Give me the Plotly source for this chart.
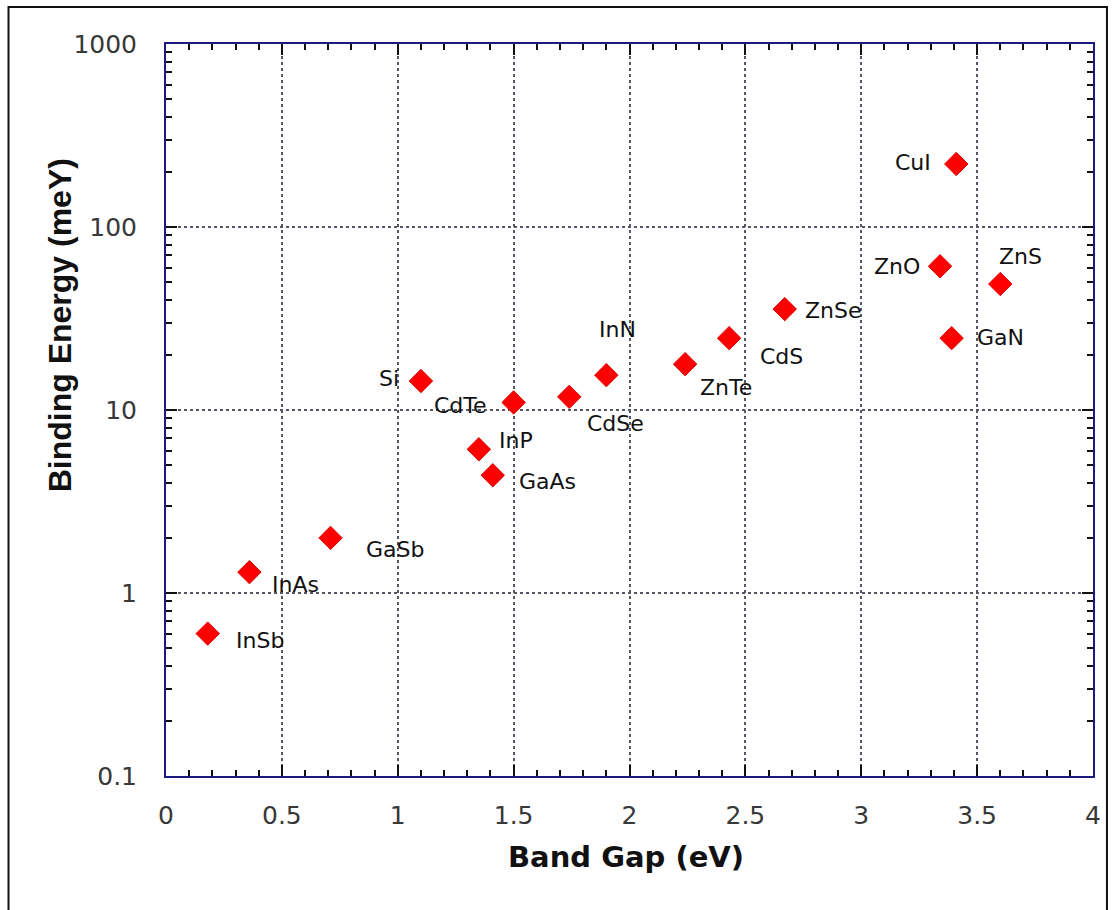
import math
import plotly.graph_objects as go

materials = ["InSb", "InAs", "GaSb", "Si", "CdTe", "InP", "GaAs", "CdSe", "InN",
             "ZnTe", "CdS", "ZnSe", "CuI", "ZnO", "ZnS", "GaN"]
band_gap = [0.18, 0.36, 0.71, 1.10, 1.50, 1.35, 1.41, 1.74, 1.90,
            2.24, 2.43, 2.67, 3.41, 3.34, 3.60, 3.39]
binding_energy = [0.60, 1.30, 2.0, 14.4, 11.0, 6.1, 4.4, 11.8, 15.5,
                  17.8, 24.7, 35.6, 221, 61, 48.8, 24.7]

x_ticks = [0, 0.5, 1, 1.5, 2, 2.5, 3, 3.5, 4]
x_tick_text = ["0", "0.5", "1", "1.5", "2", "2.5", "3", "3.5", "4"]
y_ticks = [0.1, 1, 10, 100, 1000]
y_tick_text = ["0.1", "1", "10", "100", "1000"]

# label placement (anchor side, pixel shift x, pixel shift y)
label_style = {
    "InSb": ("left", 26, -7), "InAs": ("left", 21, -12), "GaSb": ("left", 33, -12),
    "Si": ("right", -20, 3), "CdTe": ("right", -25, -3), "InP": ("left", 18, 9),
    "GaAs": ("left", 24, -6), "CdSe": ("left", 16, -27), "InN": ("left", -9, 46),
    "ZnTe": ("left", 13, -23), "CdS": ("left", 29, -18), "ZnSe": ("left", 18, -1),
    "CuI": ("right", -23, 1), "ZnO": ("right", -18, 0), "ZnS": ("left", -3, 28),
    "GaN": ("left", 23, 1),
}

fig = go.Figure()
fig.add_trace(go.Scatter(
    x=band_gap, y=binding_energy, mode="markers",
    marker=dict(symbol="diamond", size=18, color="#ff0000",
                line=dict(color="#e00000", width=1)),
    cliponaxis=False, showlegend=False, hoverinfo="x+y",
))

for name, bx, be in zip(materials, band_gap, binding_energy):
    side, dx, dy = label_style[name]
    fig.add_annotation(
        x=bx, y=math.log10(be), xref="x", yref="y", text=name, showarrow=False,
        xanchor=side, yanchor="middle", xshift=dx, yshift=dy,
        font=dict(family="DejaVu Sans", size=22, color="#111111"),
    )

axis_common = dict(
    showline=True, linecolor="#1a1a80", linewidth=2, mirror="allticks",
    ticks="inside", tickcolor="#111111", tickwidth=2, ticklen=11,
    showgrid=True, gridcolor="#555566", griddash="dot", gridwidth=1.5,
    zeroline=False,
    tickfont=dict(family="DejaVu Sans", size=25, color="#383838"),
)

y_minor = [m * 10 ** k for k in range(-1, 3) for m in range(2, 10)]

fig.update_xaxes(
    **axis_common, range=[0, 4], tickvals=x_ticks, ticktext=x_tick_text,
    ticklabelstandoff=16,
    minor=dict(ticks="inside", ticklen=6, tickwidth=2, tickcolor="#111111", dtick=0.1, showgrid=False),
)
fig.update_yaxes(
    **axis_common, type="log", range=[-1, 3], tickvals=y_ticks, ticktext=y_tick_text,
    ticklabelstandoff=22,
    minor=dict(ticks="inside", ticklen=6, tickwidth=2, tickcolor="#111111",
               tickvals=y_minor, showgrid=False),
)

W, H = 1113, 910
L, R, T, B = 166, 1096, 44, 776
pw, ph = R - L, B - T
def px(x):
    return (x - L) / pw
def py(y):
    return (B - y) / ph

fig.add_annotation(xref="paper", yref="paper", x=px(627), y=py(857), text="<b>Band Gap (eV)</b>",
                   showarrow=False, xanchor="center", yanchor="middle",
                   font=dict(family="DejaVu Sans", size=29, color="#111111"))
fig.add_annotation(xref="paper", yref="paper", x=px(60), y=py(325), text="<b>Binding Energy (meY)</b>",
                   showarrow=False, xanchor="center", yanchor="middle", textangle=-90,
                   font=dict(family="Liberation Sans", size=32, color="#111111"))

fig.add_shape(type="rect", xref="paper", yref="paper",
              x0=px(8), x1=px(1110), y0=py(915), y1=py(7),
              line=dict(color="#111111", width=2), fillcolor="rgba(0,0,0,0)", layer="below")

fig.update_layout(
    width=W, height=H, autosize=False,
    margin=dict(l=L, r=W - R, t=T, b=H - B, pad=0),
    paper_bgcolor="white", plot_bgcolor="white",
)
fig.write_html("out.html")
